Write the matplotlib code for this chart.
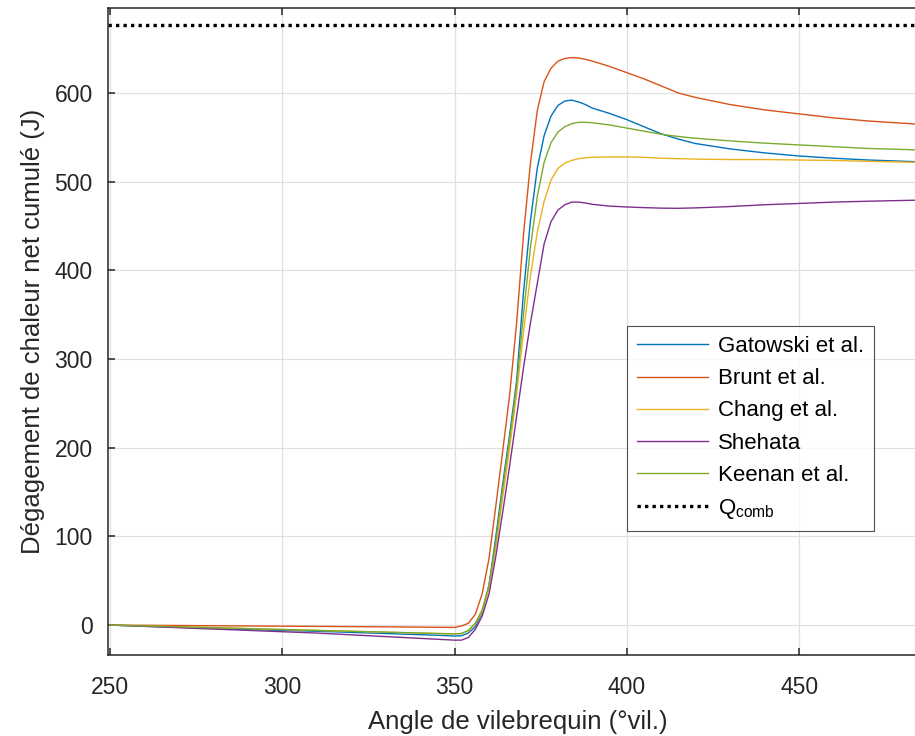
import matplotlib
matplotlib.use('Agg')
import matplotlib.pyplot as plt

plt.rcParams['font.family'] = ['Liberation Sans', 'DejaVu Sans']
plt.rcParams['mathtext.fontset'] = 'custom'
plt.rcParams['mathtext.rm'] = 'Liberation Sans'

# angle de vilebrequin (deg)
angle = [250, 270, 290, 310, 330, 345, 350, 352, 354, 356, 358, 360, 362, 364,
         366, 368, 370, 372, 374, 376, 378, 380, 382, 384, 386, 388, 390, 395,
         400, 405, 410, 415, 420, 430, 440, 450, 460, 470, 488]

gatowski = [0, -2.5, -5, -7, -9.5, -11.5, -12.4, -12, -9, -2, 14, 45, 100, 160,
            215, 275, 375, 455, 515, 552, 574, 586, 591, 592, 590, 587, 583, 577,
            570, 562, 554, 548, 543, 537, 532.5, 529, 526.5, 524.5, 522]
brunt = [0, -0.5, -1, -1.5, -2, -2.5, -2.6, -1, 2, 12, 35, 75, 135, 197,
         260, 340, 440, 520, 580, 613, 628, 636, 639, 640, 639.5, 638, 636, 630,
         623, 616, 608, 600, 595, 587, 581, 576.5, 572, 568.5, 564]
chang = [0, -2, -4, -6, -8, -9.5, -10, -9.5, -6.5, 1, 15, 42, 88, 145,
         200, 260, 330, 393, 443, 478, 502, 515, 521, 524, 526, 527, 527.5, 528,
         528, 527.5, 526.5, 526, 525.5, 525, 525, 524.5, 524, 523, 521.5]
shehata = [0, -3, -6, -9, -13, -16, -17, -17, -14, -5, 10, 35, 78, 128,
           180, 235, 290, 340, 385, 430, 455, 468, 474, 477, 477, 476, 474.5, 472.5,
           471.5, 470.8, 470.2, 470, 470.5, 472, 474, 475.5, 477, 478, 479.5]
keenan = [0, -2, -4, -6, -8, -9.5, -10, -9.5, -6, 2, 17, 45, 95, 155,
          210, 270, 350, 425, 483, 522, 544, 556, 562, 565.5, 567, 567, 566.5, 564,
          560.5, 557, 553.5, 551, 549, 546, 543.5, 541.5, 539.5, 537.5, 535.5]
q_comb = 677

noms = ['Gatowski et al.', 'Brunt et al.', 'Chang et al.', 'Shehata', 'Keenan et al.']
series = [gatowski, brunt, chang, shehata, keenan]
couleurs = ['#0072BD', '#D95319', '#EDB120', '#7E2F8E', '#77AC30']

fig = plt.figure(figsize=(9.15, 7.36), dpi=100)
ax = fig.add_axes([0.118, 0.110, 0.895, 0.879])

for y, nom, c in zip(series, noms, couleurs):
    ax.plot(angle, y, color=c, lw=1.0, label=nom)
ax.axhline(q_comb, color='black', lw=2.4, dashes=(1.0, 1.25), label=r'Q$_{\mathrm{comb}}$')

ax.set_xlim(249.4, 487.1)
ax.set_ylim(-33.8, 695.8)
ax.set_xticks([250, 300, 350, 400, 450])
ax.set_yticks([0, 100, 200, 300, 400, 500, 600])
ax.grid(True, color='#e0e0e0', lw=0.9)
ax.set_axisbelow(True)

for s in ax.spines.values():
    s.set_color('#262626')
    s.set_linewidth(1.1)
ax.tick_params(direction='in', length=5, width=1.1, color='#262626',
               labelsize=16.5, labelcolor='#262626', top=True, right=True, pad=11)
ax.tick_params(axis='x', pad=15)

ax.set_xlabel('Angle de vilebrequin (°vil.)', fontsize=18.5, color='#262626', labelpad=8)
ax.set_ylabel('Dégagement de chaleur net cumulé (J)', fontsize=18.5, color='#262626', labelpad=7)

leg = ax.legend(loc='lower left', bbox_to_anchor=(0.634, 0.192), fontsize=16,
                handlelength=3.2, frameon=True, fancybox=False, borderpad=0.45,
                labelspacing=0.5, handletextpad=0.45, borderaxespad=0)
leg.get_frame().set_edgecolor('#262626')
leg.get_frame().set_linewidth(0.8)

fig.savefig('out.png', dpi=100)
